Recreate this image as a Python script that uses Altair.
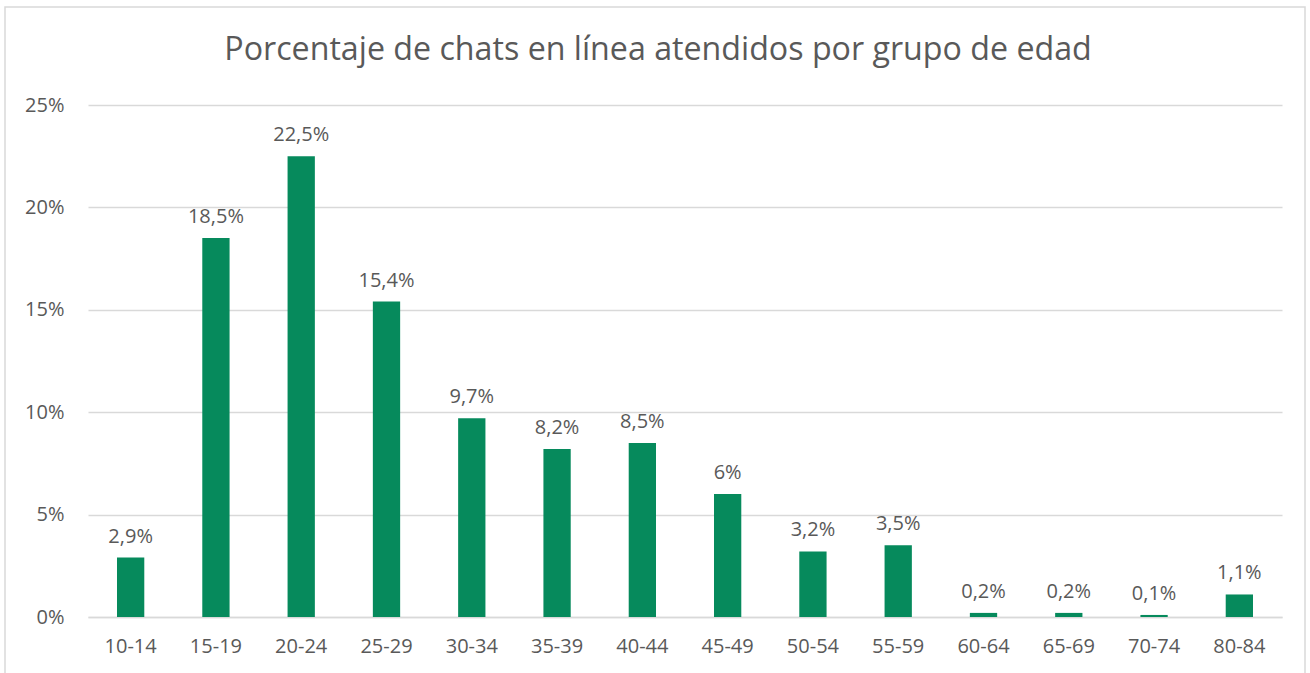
import altair as alt
import pandas as pd

groups = ["10-14", "15-19", "20-24", "25-29", "30-34", "35-39", "40-44",
          "45-49", "50-54", "55-59", "60-64", "65-69", "70-74", "80-84"]
values = [2.9, 18.5, 22.5, 15.4, 9.7, 8.2, 8.5, 6.0, 3.2, 3.5, 0.2, 0.2, 0.1, 1.1]
labels = [f"{v:g}".replace(".", ",") + "%" for v in values]

df = pd.DataFrame({"grupo": groups, "valor": values, "etiqueta": labels})

FONT = "Open Sans"
GREY = "#595959"
W, H = 1194, 512

base = alt.Chart(df).encode(
    x=alt.X("grupo:N", sort=groups, title=None,
            scale=alt.Scale(paddingInner=0.68, paddingOuter=0.34),
            axis=alt.Axis(labelAngle=0, labelFontSize=20, labelColor=GREY,
                          labelFont=FONT, labelPadding=19, ticks=False,
                          domainColor="#d9d9d9", domainWidth=1.5, grid=False)),
)

bars = base.mark_bar(color="#068A5C").encode(
    y=alt.Y("valor:Q", title=None,
            scale=alt.Scale(domain=[0, 25], nice=False),
            axis=alt.Axis(values=[0, 5, 10, 15, 20, 25], labelExpr="datum.value + '%'",
                          labelFontSize=20, labelColor=GREY, labelFont=FONT,
                          labelPadding=24, ticks=False, domain=False,
                          gridColor="#d9d9d9", gridWidth=1.5)),
)

text = base.mark_text(baseline="bottom", dy=-11, fontSize=20, color=GREY, font=FONT).encode(
    y=alt.Y("valor:Q"),
    text="etiqueta:N",
)

border = alt.Chart(pd.DataFrame({"a": [0]})).mark_rect(
    fill=None, stroke="#d9d9d9", strokeWidth=1.5
).encode(x=alt.value(-83), x2=alt.value(1217), y=alt.value(-98), y2=alt.value(570))

chart = alt.layer(border, bars, text).properties(
    width=W, height=H,
    background="white",
    title=alt.TitleParams("Porcentaje de chats en línea atendidos por grupo de edad",
                          fontSize=32.2, font=FONT, fontWeight="normal", color=GREY,
                          anchor="middle", dx=-27, dy=89, offset=28),
    autosize=alt.AutoSizeParams(type="none"),
    padding={"left": 88, "top": 105, "right": 28, "bottom": 56},
).configure_view(stroke=None, strokeWidth=0)

chart.save("out.html", embed_options={"renderer": "svg", "actions": False})
